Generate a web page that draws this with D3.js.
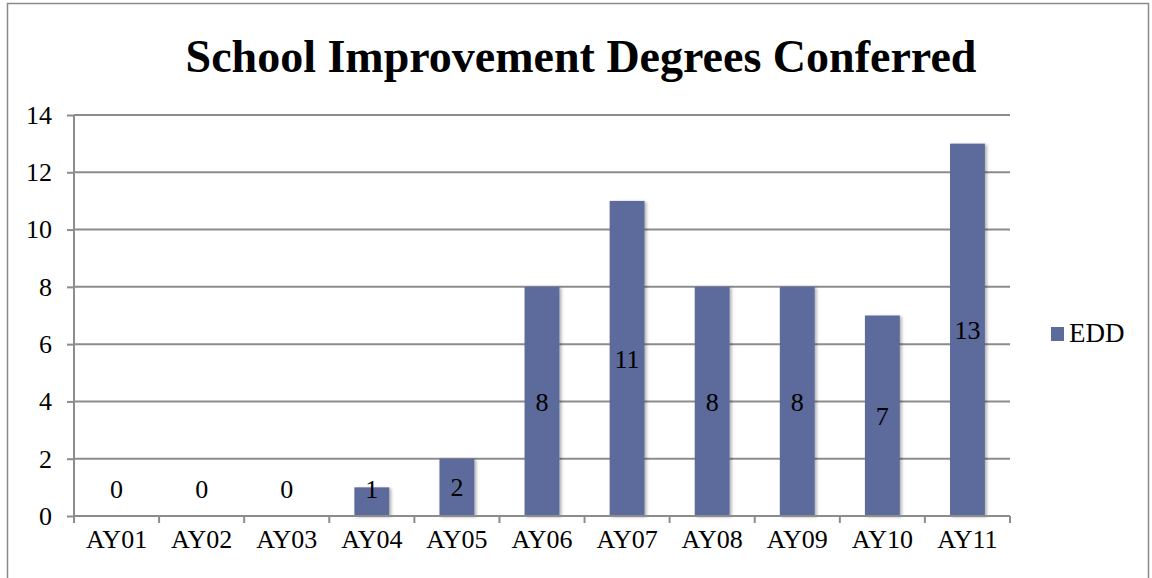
<!DOCTYPE html>
<html><head><meta charset="utf-8">
<script src="https://cdnjs.cloudflare.com/ajax/libs/d3/7.8.5/d3.min.js"></script>
</head><body style="margin:0">
<script>
const categories = ["AY01","AY02","AY03","AY04","AY05","AY06","AY07","AY08","AY09","AY10","AY11"];
const seriesName = "EDD";
const values = [0,0,0,1,2,8,11,8,8,7,13];
const yTicks = [0,2,4,6,8,10,12,14];
const title = "School Improvement Degrees Conferred";

const W = 1152, H = 578;
const FF = "Times New Roman";
const svg = d3.select("body").append("svg").attr("width", W).attr("height", H)
  .style("display","block").style("font-family", `"${FF}"`);

const defs = svg.append("defs");
const f = defs.append("filter").attr("id","sh").attr("x","-20%").attr("y","-20%").attr("width","150%").attr("height","150%");
f.append("feDropShadow").attr("dx",2).attr("dy",1).attr("stdDeviation",1.5).attr("flood-color","#000").attr("flood-opacity",0.3);

svg.append("rect").attr("x",7.5).attr("y",3.5).attr("width",1141).attr("height",600)
  .attr("fill","none").attr("stroke","#8a8a8a").attr("stroke-width",1.5);

const x0 = 74, x1 = 1010, yTop = 115, yBot = 516;
const x = d3.scaleBand().domain(categories).range([x0, x1]).paddingInner(0.59).paddingOuter(0.295);
const xb = d3.scaleBand().domain(categories).range([x0, x1]);
const y = d3.scaleLinear().domain([0,14]).range([yBot, yTop]);

svg.append("g").selectAll("line").data(yTicks.filter(d=>d>0)).join("line")
  .attr("x1", x0).attr("x2", x1).attr("y1", d=>y(d)).attr("y2", d=>y(d))
  .attr("stroke","#8c8c8c").attr("stroke-width",2);

const ya = svg.append("g").attr("transform",`translate(${x0},0)`)
  .call(d3.axisLeft(y).tickValues(yTicks).tickSize(7).tickPadding(15));
ya.attr("font-family",null).attr("font-size",26);
ya.select(".domain").attr("stroke","#8c8c8c").attr("stroke-width",2).attr("d",`M0,${yTop}V${yBot+7}`);
ya.selectAll(".tick line").attr("stroke","#8c8c8c").attr("stroke-width",2);
ya.selectAll("text").attr("font-family",FF).attr("font-size",26).attr("fill","#000");

svg.append("g").selectAll("rect").data(values.map((v,i)=>({c:categories[i],v}))).join("rect")
  .attr("x", d=>x(d.c)).attr("width", x.bandwidth())
  .attr("y", d=>y(d.v)).attr("height", d=>yBot - y(d.v))
  .attr("fill","#5b6b9c").attr("filter","url(#sh)");

const xa = svg.append("g").attr("transform",`translate(0,${yBot})`)
  .call(d3.axisBottom(xb).tickSize(0).tickPadding(14));
xa.attr("font-family",null).attr("font-size",26);
xa.select(".domain").attr("stroke","#8c8c8c").attr("stroke-width",2).attr("d",`M${x0},0H${x1}`);
xa.selectAll(".tick line").remove();
xa.selectAll("text").attr("font-family",FF).attr("font-size",26).attr("fill","#000").attr("dy","0.71em");
svg.append("g").selectAll("line").data(d3.range(categories.length+1)).join("line")
  .attr("x1", i=>x0 + i*xb.step()).attr("x2", i=>x0 + i*xb.step())
  .attr("y1", yBot).attr("y2", yBot+7).attr("stroke","#8c8c8c").attr("stroke-width",2);

svg.append("g").selectAll("text").data(values.map((v,i)=>({c:categories[i],v}))).join("text")
  .attr("x", d=>x(d.c)+x.bandwidth()/2)
  .attr("y", d=>Math.min((y(d.v)+yBot)/2, yBot-27))
  .attr("dy","0.35em").attr("text-anchor","middle")
  .attr("font-family",FF).attr("font-size",26).attr("fill","#000").text(d=>d.v);

svg.append("text").attr("x",581).attr("y",72).attr("text-anchor","middle")
  .attr("font-family",FF).attr("font-weight","bold").attr("font-size",46).attr("fill","#000")
  .text(title);

svg.append("rect").attr("x",1051).attr("y",327).attr("width",13).attr("height",14).attr("fill","#5b6b9c");
svg.append("text").attr("x",1069).attr("y",342).attr("font-family",FF).attr("font-size",27).attr("fill","#000").text(seriesName);
</script>
</body></html>
